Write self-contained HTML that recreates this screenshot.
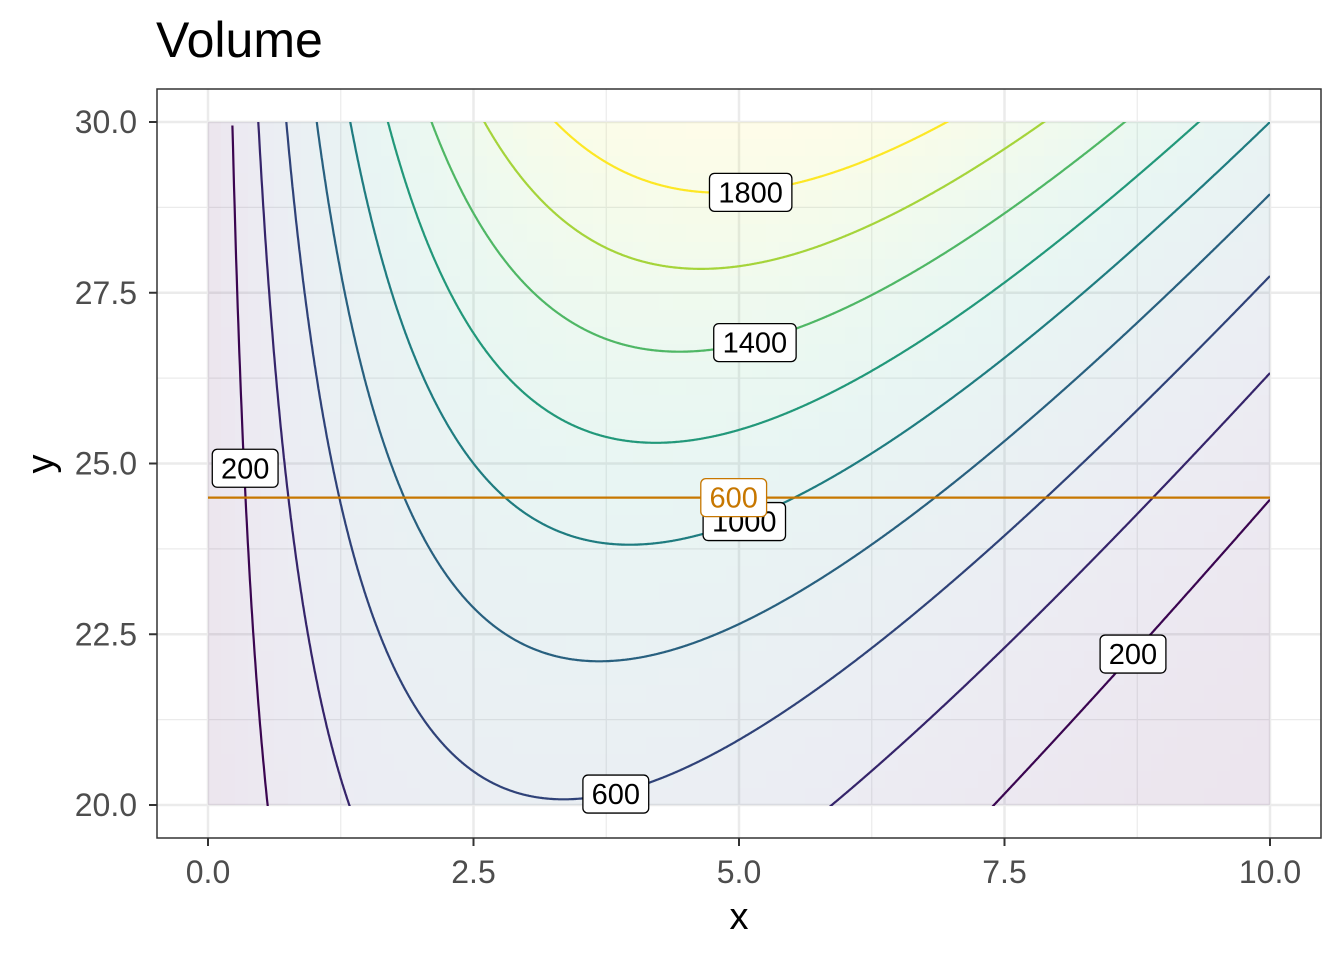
<!DOCTYPE html>
<html><head><meta charset="utf-8"><style>
body{margin:0;background:#fff}
svg{font-family:"Liberation Sans",sans-serif}
</style></head><body>
<svg id="chart" width="1344" height="960" xmlns="http://www.w3.org/2000/svg">
<defs><clipPath id="clip"><rect x="208" y="122" width="1062" height="684"/></clipPath></defs>
<text x="156" y="57" font-size="50" fill="#000">Volume</text>
<rect x="157" y="89" width="1164" height="749" fill="#fff"/>
<g id="grid"></g>
<g id="raster" clip-path="url(#clip)" shape-rendering="crispEdges"></g>
<g id="contours" clip-path="url(#clip)"></g>
<g id="labels"></g>
<rect x="157" y="89" width="1164" height="749" fill="none" stroke="#333" stroke-width="1.5"/>
<g id="axes"></g>
<text x="739" y="929" font-size="38" text-anchor="middle">x</text>
<text transform="translate(53,464) rotate(-90)" font-size="38" text-anchor="middle">y</text>
</svg>
<script>
const levels=[200,400,600,800,1000,1200,1400,1600,1800];
const levelColors=["#3a0550","#35246a","#2f4278","#28607f","#1f7c80","#22987a","#4fb765","#a5d43a","#fde725"];
const xTicks=[0,2.5,5,7.5,10];
const yTicks=[20,22.5,25,27.5,30];
const xTickLabels=["0.0","2.5","5.0","7.5","10.0"];
const yTickLabels=["20.0","22.5","25.0","27.5","30.0"];
const labelTexts=["200","600","1000","1400","1800","200"];
const labelX=[0.35,3.84,5.05,5.15,5.11,8.71];
const labelY=[24.93,20.16,24.15,26.77,28.97,22.21];
const hLineY=24.5;
const hLineLabel="600";
const hLineLabelX=4.95;

const NS="http://www.w3.org/2000/svg";
const sx=v=>208+v*106.2, sy=v=>805-(v-20)*68.3;
function mk(tag,attrs,parent){const e=document.createElementNS(NS,tag);for(const k in attrs)e.setAttribute(k,attrs[k]);parent.appendChild(e);return e;}
const vol=(x,y)=>x*(y-2*x)*(y-2*x);
const vir=["#440154","#482878","#3e4a89","#31688e","#26828e","#1f9e89","#35b779","#6ece58","#b5de2b","#fde725"];
function hex(c){return[parseInt(c.slice(1,3),16),parseInt(c.slice(3,5),16),parseInt(c.slice(5,7),16)];}
function virc(t){t=Math.max(0,Math.min(1,t));const p=t*(vir.length-1),i=Math.min(vir.length-2,Math.floor(p)),f=p-i;const a=hex(vir[i]),b=hex(vir[i+1]);return `rgb(${a.map((v,k)=>Math.round(v+(b[k]-v)*f)).join(",")})`;}

const grid=document.getElementById("grid");
[1.25,3.75,6.25,8.75].forEach(v=>{const l=mk("line",{x1:sx(v),x2:sx(v),y1:89,y2:838,stroke:"#ebebeb","stroke-width":1.2},grid);});
[21.25,23.75,26.25,28.75].forEach(v=>{const l=mk("line",{y1:sy(v),y2:sy(v),x1:157,x2:1321,stroke:"#ebebeb","stroke-width":1.2},grid);});
xTicks.forEach(v=>{const l=mk("line",{x1:sx(v),x2:sx(v),y1:89,y2:838,stroke:"#ebebeb","stroke-width":2.5},grid);});
yTicks.forEach(v=>{const l=mk("line",{y1:sy(v),y2:sy(v),x1:157,x2:1321,stroke:"#ebebeb","stroke-width":2.5},grid);});

const raster=document.getElementById("raster");
const NX=80,NY=40;
for(let i=0;i<NX;i++)for(let j=0;j<NY;j++){
  const x0=i*10/NX,x1=(i+1)*10/NX,y0=20+j*10/NY,y1=20+(j+1)*10/NY;
  const px0=Math.round(sx(x0)),px1=Math.round(sx(x1)),py0=Math.round(sy(y1)),py1=Math.round(sy(y0));
  const v=vol((x0+x1)/2,(y0+y1)/2);
  mk("rect",{x:px0,y:py0,width:px1-px0,height:py1-py0,fill:virc(v/2000),"fill-opacity":0.1},raster);
}



const cg=document.getElementById("contours");
levels.forEach((L,k)=>{
  let pts=[];
  for(let x=0.005;x<=10.0001;x+=0.005){const y=2*x+Math.sqrt(L/x);if(y>=19.8&&y<=30.2)pts.push(sx(x).toFixed(1)+","+sy(y).toFixed(1));}
  const p=mk("polyline",{points:pts.join(" "),fill:"none",stroke:levelColors[k],"stroke-width":2.2},cg);
  
  
});
const hl=mk("line",{x1:sx(0),x2:sx(10),y1:sy(hLineY),y2:sy(hLineY),stroke:"#c77700","stroke-width":2.2},cg);



const lg=document.getElementById("labels");
function label(t,x,y,col,name){
  const g=mk("g",{},lg);
  
  
  const w=t.length*16.6+16;
  mk("rect",{x:sx(x)-w/2,y:sy(y)-19,width:w,height:38,rx:5,fill:"#fff",stroke:col,"stroke-width":1.3},g);
  const tx=mk("text",{x:sx(x),y:sy(y)+10,"font-size":29,"text-anchor":"middle",fill:col},g);tx.textContent=t;
}
labelTexts.forEach((t,i)=>label(t,labelX[i],labelY[i],"#000","contour-label-"+t));
label(hLineLabel,hLineLabelX,hLineY,"#c77700","reference-line-label");

const ax=document.getElementById("axes");
xTicks.forEach((v,i)=>{
  mk("line",{x1:sx(v),x2:sx(v),y1:838,y2:846,stroke:"#333","stroke-width":2},ax);
  const t=mk("text",{x:sx(v),y:883,"font-size":32,"text-anchor":"middle",fill:"#4d4d4d"},ax);t.textContent=xTickLabels[i];
  
});
yTicks.forEach((v,i)=>{
  mk("line",{x1:149,x2:157,y1:sy(v),y2:sy(v),stroke:"#333","stroke-width":2},ax);
  const t=mk("text",{x:137,y:sy(v)+11,"font-size":32,"text-anchor":"end",fill:"#4d4d4d"},ax);t.textContent=yTickLabels[i];
  
});
</script>
</body></html>
